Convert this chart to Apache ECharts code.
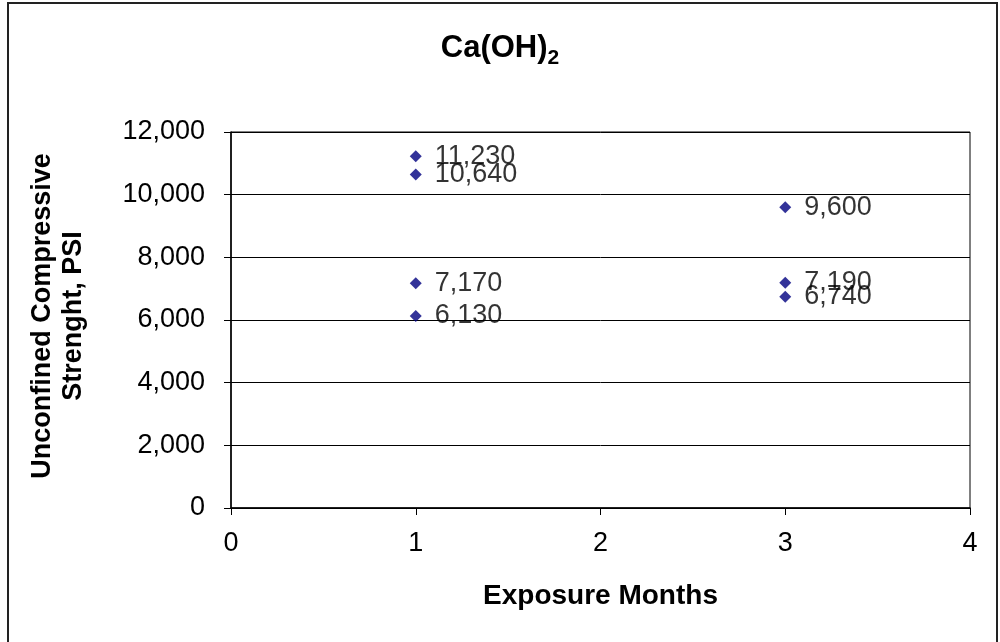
<!DOCTYPE html>
<html>
<head>
<meta charset="utf-8">
<script src="https://cdn.jsdelivr.net/npm/echarts@6/dist/echarts.min.js"></script>
<style>
  html, body { margin: 0; padding: 0; background: #fff; }
  #chart { width: 1000px; height: 642px; }
</style>
</head>
<body>
<div id="chart"></div>
<script>
// Exposure time (months) for each specimen
const exposureMonths = [1, 1, 1, 1, 3, 3, 3];
// Unconfined compressive strength, PSI
const strengthPsi = [11230, 10640, 7170, 6130, 9600, 7190, 6740];
// Axis tick settings
const xTicks = [0, 1, 2, 3, 4];
const yTickMax = 12000;
const yTickStep = 2000;

const FONT = "'Liberation Sans', Arial, sans-serif";
const fmt = v => Number(v).toLocaleString('en-US');

const points = exposureMonths.map((m, i) => [m, strengthPsi[i]]);

const chart = echarts.init(document.getElementById('chart'), null, { renderer: 'canvas' });
chart.setOption({
  animation: false,
  backgroundColor: '#ffffff',
  title: {
    text: '{a|Ca(OH)}{s|2}',
    left: 'center',
    top: 28,
    textStyle: {
      rich: {
        a: { fontFamily: FONT, fontWeight: 'bold', fontSize: 31, color: '#000', verticalAlign: 'bottom', padding: [0, 0, 5, 0] },
        s: { fontFamily: FONT, fontWeight: 'bold', fontSize: 21, color: '#000', verticalAlign: 'bottom' }
      }
    }
  },
  graphic: [
    {
      type: 'rect',
      shape: { x: 8, y: 3, width: 989, height: 700 },
      style: { fill: 'none', stroke: '#222', lineWidth: 2 },
      silent: true
    },
    {
      type: 'text',
      x: 58,
      y: 316,
      rotation: Math.PI / 2,
      style: {
        text: 'Unconfined Compressive\nStrenght, PSI',
        font: "bold 27px 'Liberation Sans', Arial, sans-serif",
        fill: '#000',
        align: 'center',
        verticalAlign: 'middle',
        lineHeight: 31
      },
      silent: true
    }
  ],
  grid: {
    left: 231,
    right: 30,
    top: 132,
    bottom: 134,
    show: true,
    borderColor: '#000',
    borderWidth: 1,
    backgroundColor: '#fff'
  },
  xAxis: {
    type: 'value',
    min: xTicks[0],
    max: xTicks[xTicks.length - 1],
    interval: 1,
    name: 'Exposure Months',
    nameLocation: 'middle',
    nameGap: 74,
    nameTextStyle: { fontFamily: FONT, fontWeight: 'bold', fontSize: 28, color: '#000' },
    axisLine: { show: true, onZero: false, lineStyle: { color: '#000', width: 1.5 } },
    axisTick: { show: true, inside: false, length: 7, lineStyle: { color: '#000' } },
    axisLabel: { fontFamily: FONT, fontSize: 27, color: '#000', margin: 22 },
    splitLine: { show: false }
  },
  yAxis: {
    type: 'value',
    min: 0,
    max: yTickMax,
    interval: yTickStep,
    axisLine: { show: true, lineStyle: { color: '#000', width: 1.5 } },
    axisTick: { show: true, inside: false, length: 7, lineStyle: { color: '#000' } },
    axisLabel: { fontFamily: FONT, fontSize: 27, color: '#000', margin: 26, formatter: fmt },
    splitLine: { show: true, lineStyle: { color: '#000', width: 1 } }
  },
  series: [
    {
      type: 'scatter',
      data: points,
      symbol: 'diamond',
      symbolSize: 12,
      itemStyle: { color: '#000080' },
      label: {
        show: true,
        position: 'right',
        distance: 13,
        fontFamily: FONT,
        fontSize: 27,
        color: '#000',
        formatter: p => fmt(p.value[1])
      },
      labelLayout: { hideOverlap: false }
    }
  ]
});
</script>
</body>
</html>
